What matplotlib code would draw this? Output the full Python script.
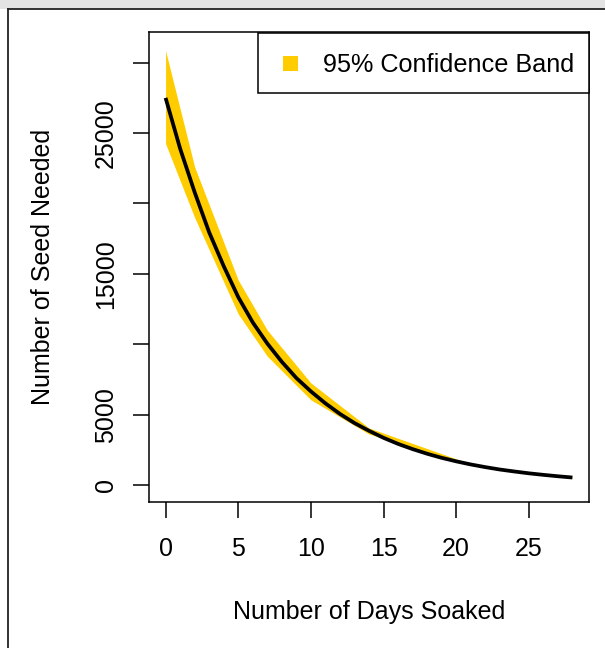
import matplotlib
matplotlib.use('Agg')
import matplotlib.pyplot as plt
from matplotlib.lines import Line2D
from matplotlib.patches import Rectangle

plt.rcParams['font.family'] = ['Liberation Sans', 'DejaVu Sans']

# ---- data ----
days = list(range(29))
seed_fit = [27500, 23900, 20800, 17950, 15550, 13350, 11550, 10050, 8750, 7600,
            6650, 5800, 5050, 4400, 3850, 3350, 2920, 2550, 2220, 1930,
            1680, 1460, 1270, 1100, 960, 830, 720, 620, 530]
band_days = [0, 2, 5, 7, 10, 14, 21, 28]
band_upper = [30850, 22600, 14560, 11000, 7250, 4050, 1490, 550]
band_lower = [24250, 19000, 12150, 9150, 6050, 3620, 1400, 510]
x_ticks = [0, 5, 10, 15, 20, 25]
x_tick_labels = ['0', '5', '10', '15', '20', '25']
y_ticks = [0, 5000, 10000, 15000, 20000, 25000, 30000]
y_tick_labels = ['0', '5000', '', '15000', '', '25000', '']
band_label = '95% Confidence Band'
x_label = 'Number of Days Soaked'
y_label = 'Number of Seed Needed'

W, H = 605, 648
fig = plt.figure(figsize=(W / 100, H / 100), dpi=100)
fx = lambda px: px / W
fy = lambda py: 1 - py / H

# outer decoration (gray strip + dark frame)
fig.patches.append(Rectangle((0, fy(8.5)), 1, 8.5 / H, transform=fig.transFigure,
                             facecolor='#e3e3e3', edgecolor='none', zorder=0))
fig.lines.append(Line2D([fx(7.5), 1], [fy(8.8), fy(8.8)], transform=fig.transFigure,
                        color='#222222', lw=1.3))
fig.lines.append(Line2D([fx(7.5), fx(7.5)], [fy(8.8), 0], transform=fig.transFigure,
                        color='#222222', lw=1.3))

ax = fig.add_axes([fx(149.3), fy(502), (588.7 - 149.3) / W, (502 - 32.3) / H])
gold = '#FFCC00'
ax.fill_between(band_days, band_lower, band_upper, color=gold, lw=0, zorder=1)
ax.plot(days, seed_fit, color='black', lw=2.7, solid_capstyle='butt', zorder=2)

ax.set_xlim(-1.12, 29.12)
ax.set_ylim(-1208, 32158)
ax.set_xticks(x_ticks)
ax.set_xticklabels(x_tick_labels)
ax.set_yticks(y_ticks)
ax.set_yticklabels(y_tick_labels, rotation=90, va='center')
ax.tick_params(axis='both', length=11.5, width=1.1, labelsize=18, color='black')
ax.tick_params(axis='x', pad=14)
ax.tick_params(axis='y', pad=11)
for s in ax.spines.values():
    s.set_linewidth(1.1)
    s.set_color('black')

# legend (top-right, R style)
lx0, ly0, lx1, ly1 = 258, 32.7, 588.7, 93.3
fig.patches.append(Rectangle((fx(lx0), fy(ly1)), (lx1 - lx0) / W, (ly1 - ly0) / H,
                             transform=fig.transFigure, facecolor='white',
                             edgecolor='black', lw=1.1, zorder=5))
fig.patches.append(Rectangle((fx(290.7 - 7.5), fy(63.3 + 7.5)), 15 / W, 15 / H,
                             transform=fig.transFigure, facecolor=gold,
                             edgecolor='none', zorder=6))
fig.text(fx(322.7), fy(72.5), band_label, ha='left', va='baseline', fontsize=18.2,
         zorder=6)

fig.text(fx(369), fy(619), x_label, ha='center', va='baseline', fontsize=18)
fig.text(fx(50), fy(267), y_label, ha='center', va='baseline', rotation=90,
         rotation_mode='anchor', fontsize=18)

fig.savefig('out.png', dpi=100)
